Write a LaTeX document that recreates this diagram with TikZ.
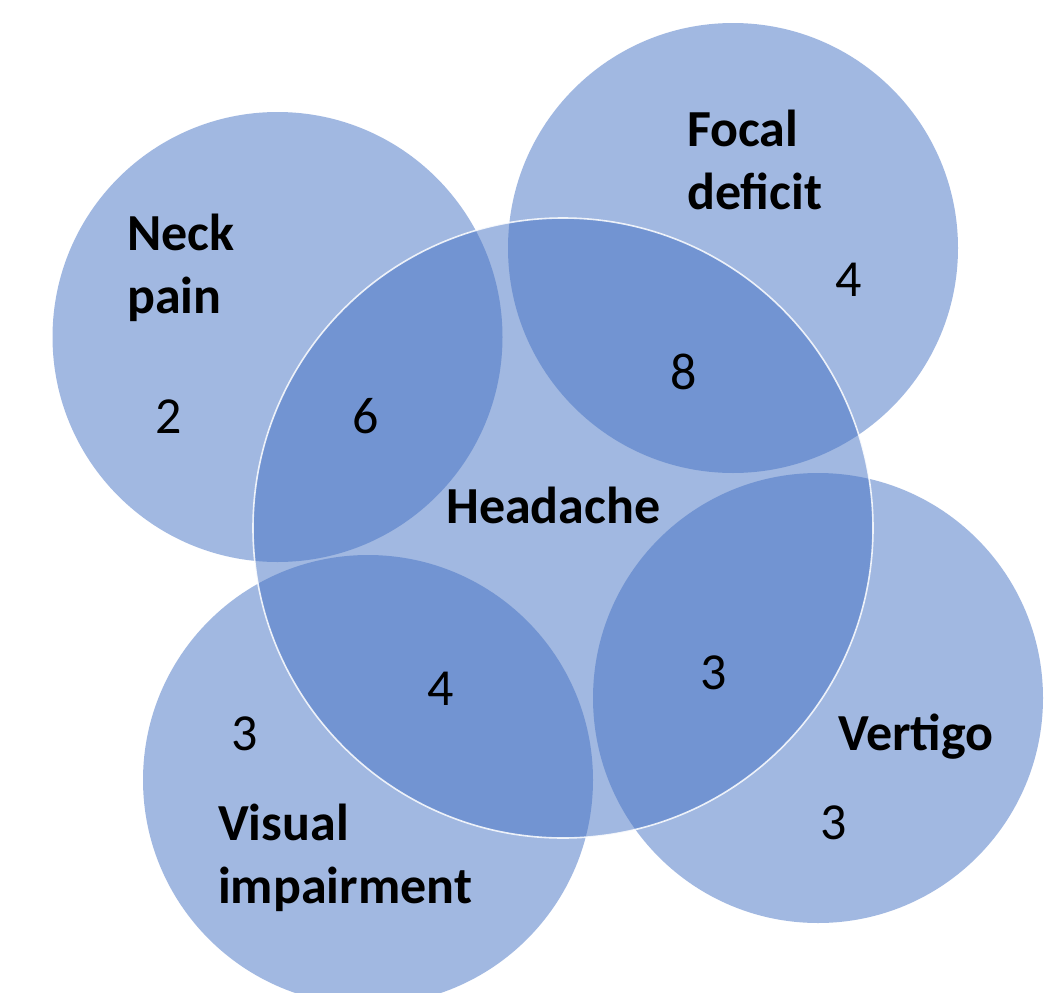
\documentclass[tikz,border=0pt]{standalone}
\usepackage{fontspec}
\setmainfont{Carlito}
\definecolor{venn}{RGB}{68,114,196}
\begin{document}
\begin{tikzpicture}[x=1pt,y=-1pt,
  setc/.style={circle,inner sep=0pt,minimum size=#1,fill=venn,fill opacity=0.5,draw=none},
  lab/.style={anchor=base west,align=left,inner sep=0pt,font=\fontsize{52}{63}\selectfont\bfseries},
  num/.style={anchor=center,inner sep=0pt,font=\fontsize{52}{63}\selectfont}]
\useasboundingbox (0,0) rectangle (1044,993);
\fill[white] (0,0) rectangle (1044,993);
\node[setc=450pt] (neck) at (277.5,337) {};
\node[setc=450pt] (focal) at (733,248) {};
\node[setc=450pt] (visual) at (368,780) {};
\node[setc=450pt] (vertigo) at (818,698) {};
\node[setc=620pt,draw=white,draw opacity=0.85,line width=1.6pt] (head) at (563,528) {};
% labels (base anchor = baseline of the last line)
\node[lab] (lneck) at (127,313) {Neck\\pain};
\node[lab] (lfocal) at (687,209) {Focal\\deficit};
\node[lab] (lhead) at (446,523) {Headache};
\node[lab] (lvisual) at (218,903) {Visual\\impairment};
\node[lab] (lvert) at (838,750) {Vertigo};
% numbers
\node[num] (n2) at (169,417) {2};
\node[num] (n6) at (366,416) {6};
\node[num] (n8) at (684,372) {8};
\node[num] (n4a) at (849,280) {4};
\node[num] (n4b) at (441,689) {4};
\node[num] (n3a) at (245,734) {3};
\node[num] (n3b) at (714,673) {3};
\node[num] (n3c) at (834,823) {3};
\end{tikzpicture}
\end{document}
